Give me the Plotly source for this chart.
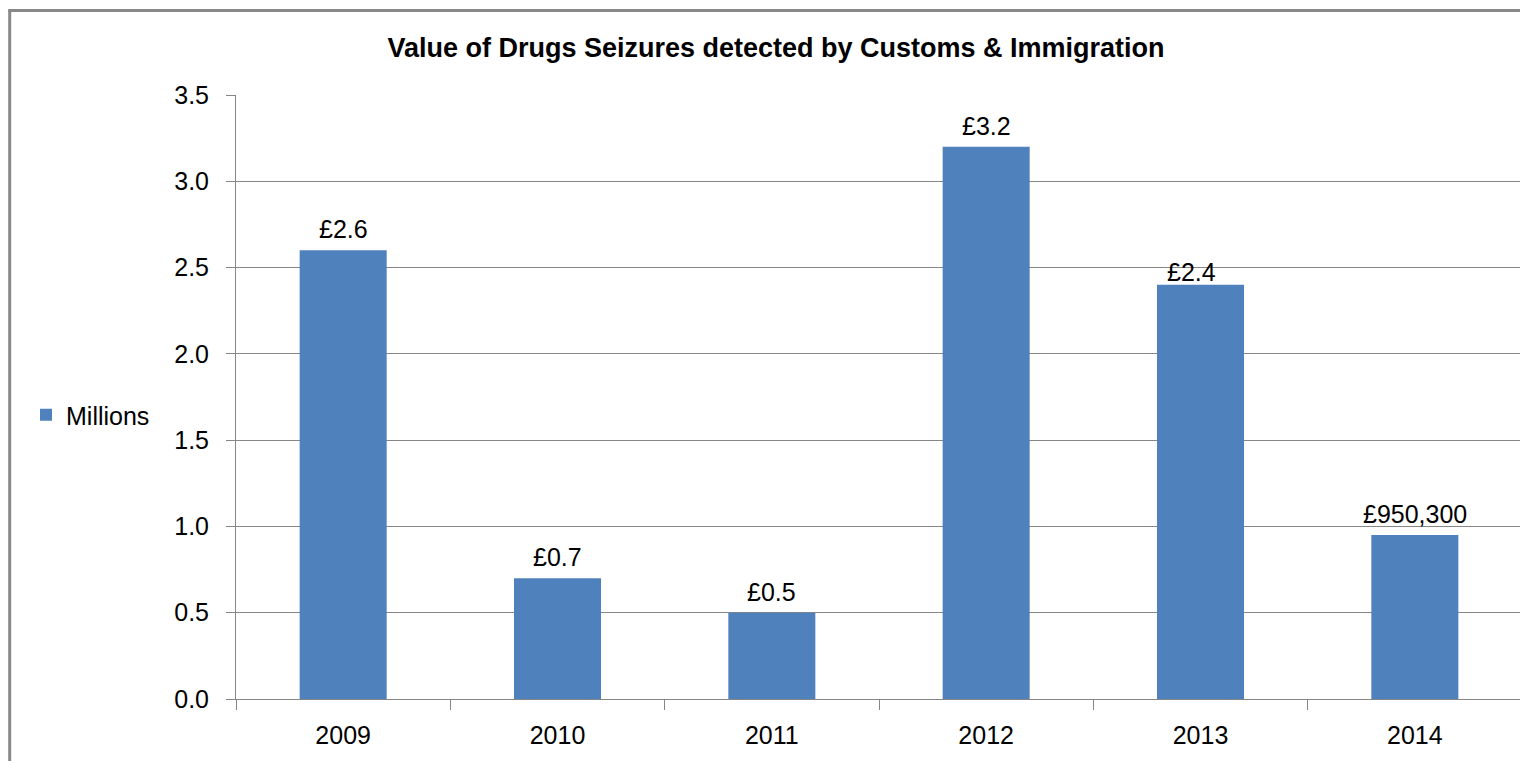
import plotly.graph_objects as go

years = ["2009", "2010", "2011", "2012", "2013", "2014"]
values = [2.6, 0.7, 0.5, 3.2, 2.4, 0.9503]
labels = ["£2.6", "£0.7", "£0.5", "£3.2", "£2.4", "£950,300"]
y_ticks = [0.0, 0.5, 1.0, 1.5, 2.0, 2.5, 3.0, 3.5]
y_tick_text = ["0.0", "0.5", "1.0", "1.5", "2.0", "2.5", "3.0", "3.5"]

W, H = 1528, 761
OFF = 8  # page body margin in the screenshot
# desired on-screen positions, converted to figure coordinates
L = 236 - OFF
T = 95 - OFF
B = H - (699 - OFF)
R = W - (1522 - OFF)
pw, ph = W - L - R, H - T - B

font_fam = "Liberation Sans"
fig = go.Figure()
fig.add_trace(go.Bar(
    x=years, y=values, name="Millions",
    marker=dict(color="#4F81BD", line=dict(width=0)),
    width=0.406,
))

# small label nudges (pixels) as in the original chart
nudge = {4: (-9, -8)}
for i, (v, lab) in enumerate(zip(values, labels)):
    dx, dy = nudge.get(i, (0, 0))
    fig.add_annotation(x=i, y=v, text=lab, showarrow=False, yanchor="bottom",
                       yshift=5 + dy, xshift=dx, font=dict(family=font_fam, size=25, color="#000"))

def px_x(p):
    return (p - OFF - L) / pw

def px_y(p):
    return (H - B - (p - OFF)) / ph

border = "#888888"
fig.add_shape(type="line", xref="paper", yref="paper", x0=px_x(9.7), x1=px_x(9.7),
              y0=px_y(790), y1=px_y(10.5), line=dict(color=border, width=3))
fig.add_shape(type="line", xref="paper", yref="paper", x0=px_x(8.2), x1=px_x(1560),
              y0=px_y(10.5), y1=px_y(10.5), line=dict(color=border, width=3))

fig.update_layout(
    width=W, height=H,
    margin=dict(l=L, r=R, t=T, b=B, autoexpand=False),
    paper_bgcolor="white", plot_bgcolor="white",
    title=dict(text="<b>Value of Drugs Seizures detected by Customs &amp; Immigration</b>",
               x=(776 - OFF) / W, xanchor="center", y=1 - (47.5 - OFF) / H, yanchor="middle",
               font=dict(family="Liberation Sans", size=27, color="#000")),
    showlegend=True,
    legend=dict(x=px_x(26), xanchor="left", y=px_y(415), yanchor="middle",
                font=dict(family=font_fam, size=25, color="#000"),
                bgcolor="rgba(0,0,0,0)", itemwidth=30),
    bargap=0.594,
    xaxis=dict(type="category", range=[-0.5, 5.5], showgrid=False, showline=True,
               linecolor="#868686", linewidth=1,
               ticks="outside", tickson="boundaries", ticklen=10, tickcolor="#868686",
               tickfont=dict(family=font_fam, size=25, color="#000"), ticklabelstandoff=14),
    yaxis=dict(range=[0, 3.5], tickvals=y_ticks, ticktext=y_tick_text, showgrid=True,
               gridcolor="#868686", gridwidth=1, showline=True, linecolor="#868686", linewidth=1,
               ticks="outside", ticklen=9, tickcolor="#868686", zeroline=False,
               tickfont=dict(family=font_fam, size=25, color="#000"), ticklabelstandoff=12),
)

fig.write_html("out.html")
